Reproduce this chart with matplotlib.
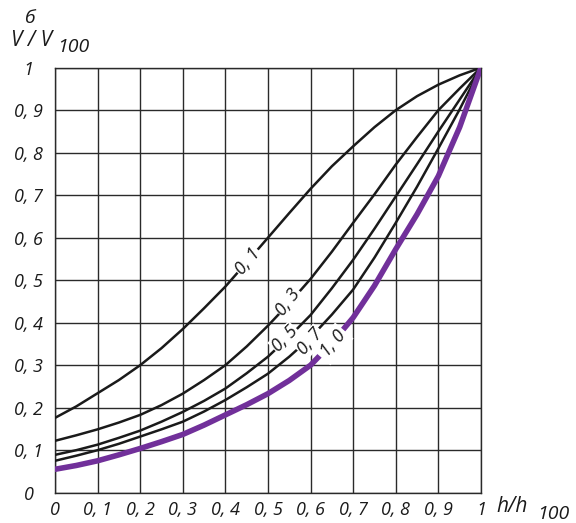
import matplotlib.pyplot as plt
import numpy as np

# relative opening h/h100 vs relative flow V/V100
h = [0, 0.05, 0.1, 0.15, 0.2, 0.25, 0.3, 0.35, 0.4, 0.45, 0.5,
     0.55, 0.6, 0.65, 0.7, 0.75, 0.8, 0.85, 0.9, 0.95, 1.0]
v_01 = [0.176, 0.203, 0.234, 0.265, 0.300, 0.340, 0.385, 0.434, 0.485, 0.542, 0.600,
        0.658, 0.715, 0.768, 0.815, 0.860, 0.900, 0.933, 0.960, 0.982, 1.0]
v_03 = [0.122, 0.135, 0.149, 0.165, 0.183, 0.206, 0.233, 0.265, 0.300, 0.344, 0.393,
        0.446, 0.503, 0.567, 0.635, 0.702, 0.772, 0.837, 0.900, 0.951, 1.0]
v_05 = [0.089, 0.100, 0.113, 0.129, 0.146, 0.167, 0.190, 0.216, 0.245, 0.281, 0.320,
        0.367, 0.418, 0.481, 0.548, 0.621, 0.697, 0.773, 0.850, 0.925, 1.0]
v_07 = [0.075, 0.087, 0.100, 0.115, 0.132, 0.149, 0.167, 0.191, 0.218, 0.248, 0.280,
        0.320, 0.365, 0.419, 0.478, 0.553, 0.635, 0.720, 0.810, 0.902, 1.0]
v_10 = [0.055, 0.064, 0.075, 0.089, 0.104, 0.120, 0.137, 0.159, 0.183, 0.207, 0.233,
        0.264, 0.300, 0.352, 0.412, 0.487, 0.573, 0.655, 0.745, 0.860, 1.0]

curve_names = ["0, 1", "0, 3", "0, 5", "0, 7", "1, 0"]
# label anchor (x, y) and angle for the inline labels
label_pos = [(0.452, 0.545, 50), (0.548, 0.449, 53), (0.540, 0.362, 46),
             (0.600, 0.356, 49), (0.652, 0.350, 49)]

tick_vals = np.round(np.arange(0, 1.01, 0.1), 1)
tick_txt = ["0", "0, 1", "0, 2", "0, 3", "0, 4", "0, 5", "0, 6", "0, 7", "0, 8", "0, 9", "1"]

plt.rcParams['font.family'] = ['Open Sans', 'DejaVu Sans']
purple = '#71309a'
ink = '#1a1a1a'

fig = plt.figure(figsize=(5.76, 5.23), dpi=100)
ax = fig.add_axes([0.0955, 0.058, 0.7395, 0.8126])

curves = [v_01, v_03, v_05, v_07, v_10]
for i, v in enumerate(curves):
    if i == 4:
        ax.plot(h, v, color=purple, lw=4.0, solid_capstyle='round', zorder=3)
    else:
        ax.plot(h, v, color=ink, lw=1.8, solid_capstyle='round', zorder=3)

for name, (x, y, ang) in zip(curve_names, label_pos):
    pad = 0.18 if name == "1, 0" else 0.05
    ax.text(x, y, name, rotation=ang, rotation_mode='anchor', ha='center', va='center',
            fontsize=13, style='italic', color=ink, zorder=4,
            bbox=dict(boxstyle='square,pad=%s' % pad, fc='white', ec='none'))

ax.set_xlim(0, 1)
ax.set_ylim(0, 1)
ax.set_xticks(tick_vals)
ax.set_yticks(tick_vals)
ax.set_xticklabels(tick_txt, fontsize=13, style='italic')
ax.set_yticklabels(tick_txt, fontsize=13, style='italic', ha='center')
ax.tick_params(axis='both', length=0, colors=ink)
ax.tick_params(axis='x', pad=6)
ax.tick_params(axis='y', pad=19)
ax.grid(True, color='#2a2a2a', lw=1.0)
for s in ax.spines.values():
    s.set_color('#2a2a2a')
    s.set_linewidth(1.0)

# axis captions
fig.text(496 / 576, 1 - 507 / 523, "h/h", fontsize=15, style='italic', ha='left', va='center', color=ink)
fig.text(537 / 576, 1 - 514 / 523, "100", fontsize=14, style='italic', ha='left', va='center', color=ink)
fig.text(29 / 576, 1 - 18 / 523, "б", fontsize=14, style='italic', ha='center', va='center', color=ink)
fig.text(11 / 576, 1 - 41 / 523, "V / V", fontsize=15, style='italic', ha='left', va='center', color=ink)
fig.text(57 / 576, 1 - 47 / 523, "100", fontsize=14, style='italic', ha='left', va='center', color=ink)

fig.savefig("out.png", dpi=100)
